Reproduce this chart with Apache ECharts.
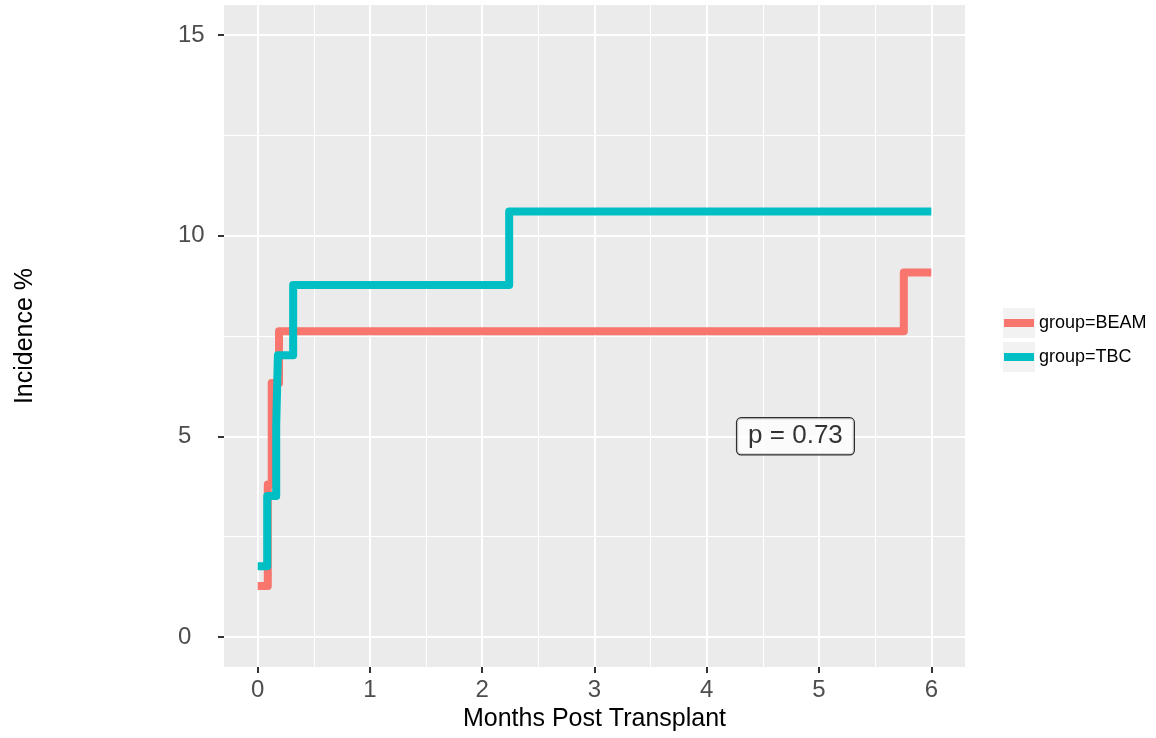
<!DOCTYPE html>
<html>
<head>
<meta charset="utf-8">
<script src="https://cdn.jsdelivr.net/npm/echarts@6/dist/echarts.min.js"></script>
<style>
html,body{margin:0;padding:0;background:#fff;}
#chart{width:1156px;height:738px;}
</style>
</head>
<body>
<div id="chart"></div>
<script>
// ---- data ----
var seriesNames = ['group=BEAM', 'group=TBC'];
var beamX = [0, 0.09, 0.125, 0.19, 5.755, 6];
var beamY = [1.27, 3.80, 6.33, 7.62, 9.08, 9.08];
var tbcX = [0, 0.085, 0.165, 0.18, 0.316, 2.24, 6];
var tbcY = [1.76, 3.51, 5.26, 7.02, 8.77, 10.60, 10.60];
var xTicks = [0, 1, 2, 3, 4, 5, 6];
var xMinor = [0.5, 1.5, 2.5, 3.5, 4.5, 5.5];
var yTicks = [0, 5, 10, 15];
var yMinor = [2.5, 7.5, 12.5];
var pText = 'p = 0.73';
var pPos = [4.79, 5.0];

function pairs(xs, ys) { return xs.map(function (x, i) { return [x, ys[i]]; }); }

var FONT = 'Liberation Sans, Arial, Helvetica, sans-serif';
var chart = echarts.init(document.getElementById('chart'), null, {renderer: 'canvas'});

var majorLine = {show: true, lineStyle: {color: '#FFFFFF', width: 2}};
var minorLine = {show: true, lineStyle: {color: '#FFFFFF', width: 1}};

chart.setOption({
  animation: false,
  backgroundColor: '#FFFFFF',
  textStyle: {fontFamily: FONT},
  grid: {left: 224, right: 191, top: 5, bottom: 71, show: true, backgroundColor: '#EBEBEB', borderWidth: 0, containLabel: false},
  xAxis: [{
    type: 'value', min: -0.3, max: 6.3, position: 'bottom',
    name: 'Months Post Transplant', nameLocation: 'middle', nameGap: 38,
    nameTextStyle: {fontSize: 25, color: '#000000', fontFamily: FONT},
    axisLine: {show: false, onZero: false},
    axisTick: {show: true, length: 6, lineStyle: {color: '#333333', width: 2}, customValues: xTicks},
    axisLabel: {show: true, fontSize: 24, color: '#4D4D4D', margin: 11, fontFamily: FONT, customValues: xTicks},
    splitLine: majorLine
  }, {
    type: 'value', min: -0.3, max: 6.3, position: 'top',
    axisLine: {show: false, onZero: false},
    axisTick: {show: false, customValues: xMinor},
    axisLabel: {show: false, customValues: xMinor},
    splitLine: minorLine
  }],
  yAxis: [{
    type: 'value', min: -0.75, max: 15.75, position: 'left',
    name: 'Incidence %', nameLocation: 'middle', nameGap: 186, nameRotate: 90,
    nameTextStyle: {fontSize: 25, color: '#000000', fontFamily: FONT},
    axisLine: {show: false, onZero: false},
    axisTick: {show: true, length: 6, lineStyle: {color: '#333333', width: 2}, customValues: yTicks},
    axisLabel: {show: true, fontSize: 24, color: '#4D4D4D', margin: 46, align: 'left', fontFamily: FONT, customValues: yTicks},
    splitLine: majorLine
  }, {
    type: 'value', min: -0.75, max: 15.75, position: 'right',
    axisLine: {show: false, onZero: false},
    axisTick: {show: false, customValues: yMinor},
    axisLabel: {show: false, customValues: yMinor},
    splitLine: minorLine
  }],
  legend: {
    orient: 'vertical', left: 1004, top: 306, padding: 0, itemGap: 0,
    itemWidth: 30, itemHeight: 8,
    textStyle: {fontSize: 18, color: '#000000', lineHeight: 34, fontFamily: FONT},
    data: [{name: seriesNames[0], icon: 'rect'}, {name: seriesNames[1], icon: 'rect'}]
  },
  graphic: [
    {type: 'rect', z: -1, shape: {x: 1003, y: 308, width: 32, height: 30}, style: {fill: '#F2F2F2'}},
    {type: 'rect', z: -1, shape: {x: 1003, y: 342, width: 32, height: 30}, style: {fill: '#F2F2F2'}}
  ],
  series: [{
    name: seriesNames[0], type: 'line', step: 'end', showSymbol: false, symbol: 'none',
    xAxisIndex: 0, yAxisIndex: 0,
    itemStyle: {color: '#F8766D'},
    lineStyle: {color: '#F8766D', width: 8, join: 'round', cap: 'butt'},
    data: pairs(beamX, beamY), z: 3
  }, {
    name: seriesNames[1], type: 'line', step: 'end', showSymbol: false, symbol: 'none',
    xAxisIndex: 0, yAxisIndex: 0,
    itemStyle: {color: '#00BFC4'},
    lineStyle: {color: '#00BFC4', width: 8, join: 'round', cap: 'butt'},
    data: pairs(tbcX, tbcY), z: 4
  }, {
    name: 'pvalue', type: 'scatter', symbolSize: 1, itemStyle: {color: 'rgba(0,0,0,0)'},
    xAxisIndex: 0, yAxisIndex: 0, z: 5,
    label: {
      show: true, position: 'inside', formatter: pText,
      fontSize: 26, lineHeight: 30, color: '#000000', fontFamily: FONT,
      backgroundColor: '#FFFFFF', borderColor: '#000000', borderWidth: 1.2, borderRadius: 4,
      padding: [3, 11]
    },
    data: [pPos]
  }]
});
</script>
</body>
</html>
